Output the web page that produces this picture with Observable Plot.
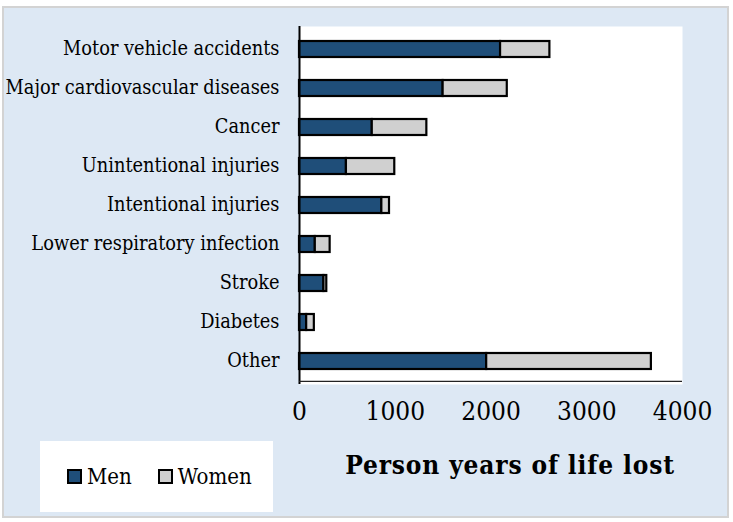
<!DOCTYPE html>
<html>
<head>
<meta charset="utf-8">
<script src="https://cdn.jsdelivr.net/npm/d3@7"></script>
<script src="https://cdn.jsdelivr.net/npm/@observablehq/plot@0.6"></script>
<style>
  html, body { margin: 0; padding: 0; background: #ffffff; }
  body { width: 733px; height: 522px; position: relative; overflow: hidden; font-family: "DejaVu Serif Condensed", "DejaVu Serif", serif; }
  #frame { position: absolute; left: 2px; top: 6px; width: 727px; height: 512px; box-sizing: border-box;
           border: 2px solid #d3d3d3; background: #dde8f4; }
  #chart { position: absolute; left: 0; top: 0; }
  #legend { position: absolute; left: 40px; top: 441px; width: 233px; height: 71px; background: #ffffff;
            display: flex; align-items: center; font-size: 22px; color: #000; }
  .item { display: flex; align-items: center; }
  .sw { width: 11px; height: 11px; border: 2px solid #000; margin-right: 5px; }
</style>
</head>
<body>
<div id="frame"></div>
<div id="chart"></div>
<div id="legend"></div>
<script>
const categories = ["Motor vehicle accidents", "Major cardiovascular diseases", "Cancer", "Unintentional injuries", "Intentional injuries", "Lower respiratory infection", "Stroke", "Diabetes", "Other"];
const men =   [2100, 1500, 760, 490, 860, 165, 255, 75, 1955];
const women = [515, 670, 570, 505, 80, 155, 30, 80, 1720];
const seriesNames = ["Men", "Women"];
const seriesColors = ["#1f4e79", "#d0d0d0"];
const xTicks = [0, 1000, 2000, 3000, 4000];
const xLabel = "Person years of life lost";

const rows = [];
categories.forEach((c, i) => {
  rows.push({cause: c, sex: "Men", value: men[i]});
  rows.push({cause: c, sex: "Women", value: women[i]});
});

const W = 733, H = 522;
const mL = 299, mR = 51, mT = 26, mB = 138;
const step = (H - mT - mB) / categories.length;
const font = "DejaVu Serif Condensed, DejaVu Serif, serif";

const chart = Plot.plot({
  width: W, height: H,
  marginLeft: mL, marginRight: mR, marginTop: mT, marginBottom: mB,
  style: {background: "transparent", fontFamily: font, color: "#000"},
  x: {domain: [0, 4000], axis: null},
  y: {domain: categories, paddingInner: 0.58, paddingOuter: 0.29, axis: null},
  color: {domain: seriesNames, range: seriesColors},
  marks: [
    Plot.frame({fill: "#ffffff", stroke: "none"}),
    Plot.barX(rows, Plot.stackX({x: "value", y: "cause", fill: "sex", stroke: "#000", strokeWidth: 2.2, order: null})),
    Plot.ruleX([0], {stroke: "#000", strokeWidth: 2}),
    Plot.ruleY([categories[categories.length - 1]], {stroke: "#222", strokeWidth: 1.2, dy: step / 2}),
    Plot.text(categories, {y: d => d, frameAnchor: "left", textAnchor: "end", dx: -20, dy: -1, text: d => d, fontSize: 19.8, fill: "#000"}),
    Plot.text(xTicks, {x: d => d, frameAnchor: "bottom", dy: 35, text: d => String(d), fontSize: 26, fill: "#000"}),
    Plot.text([xLabel], {frameAnchor: "bottom", dx: 19, dy: 89, text: d => d, fontSize: 26, fontWeight: "bold", fill: "#000"})
  ]
});
d3.select(chart).selectAll("text").filter(function() { return this.textContent === xLabel; })
  .style("letter-spacing", "0.85px");
document.getElementById("chart").appendChild(chart);

const legend = document.getElementById("legend");
seriesNames.forEach((name, i) => {
  const item = document.createElement("div");
  item.className = "item";
  item.style.marginLeft = i === 0 ? "27px" : "26px";
  const sw = document.createElement("div");
  sw.className = "sw";
  sw.style.background = seriesColors[i];
  const t = document.createElement("span");
  t.textContent = name;
  item.appendChild(sw);
  item.appendChild(t);
  legend.appendChild(item);
});
</script>
</body>
</html>
